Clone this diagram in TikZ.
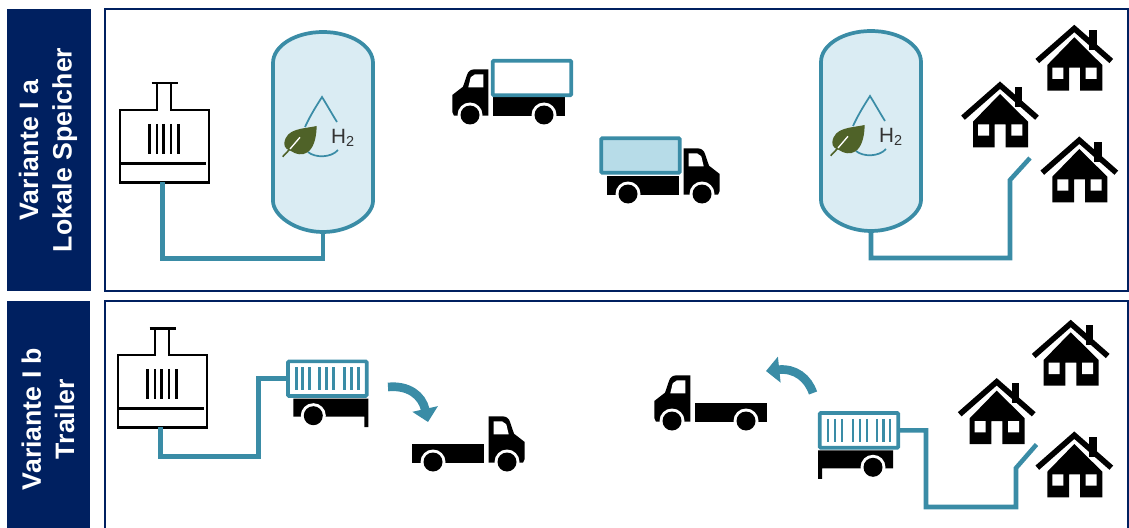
\documentclass[tikz,border=0pt]{standalone}
\usepackage{fontspec}
\setmainfont{Liberation Sans}
\usetikzlibrary{arrows.meta}
\definecolor{navy}{HTML}{002060}
\definecolor{teal}{HTML}{3A8CA6}
\definecolor{tankfill}{HTML}{DAECF3}
\definecolor{loadfill}{HTML}{B7DCE8}
\definecolor{leaf}{HTML}{4F6228}
\begin{document}
\begin{tikzpicture}[
		x=0.75pt, y=-0.75pt,
		title/.style={fill=navy, text=white, font=\fontsize{20}{25}\selectfont\bfseries, align=center, rotate=90},
		frame/.style={draw=navy, line width=1.5pt},
		pipe/.style={draw=teal, line width=3.4pt},
		swap/.style={draw=teal, line width=6.5pt, -{Triangle[width=19pt, length=10pt]}},
		cargo/.style={draw=teal, line width=2.8pt, rounded corners=0.8pt, minimum width=59pt, minimum height=26pt, inner sep=0pt},
		plant/.pic={
			\draw[line width=1.8pt] (36.7,-26.7) -- (36.7,0) -- (0,0) -- (0,72.3) -- (89,72.3) -- (89,0) -- (51,0) -- (51,-26.7);
			\draw[line width=1.8pt] (31.7,-26.7) -- (57.7,-26.7) (0,53.3) -- (86,53.3);
			\draw[line width=1.8pt] (29.3,14) -- (29.3,44) (36.7,14) -- (36.7,44) (43.3,14) -- (43.3,44) (51,14) -- (51,44) (58.3,14) -- (58.3,44);
			\coordinate (-out) at (42.5,72.3);
		},
		tank/.pic={
			\draw[draw=teal, fill=tankfill, line width=2.8pt] (-50,-31) .. controls (-50,-17) and (-28,0) .. (0,0) .. controls (28,0) and (50,-17) .. (50,-31) -- (50,-169) .. controls (50,-186) and (28,-200) .. (0,-200) .. controls (-28,-200) and (-50,-186) .. (-50,-169) -- cycle;
			\draw[teal, line width=1.3pt] (-18,-105) .. controls (-12,-118) and (-6,-127) .. (-1,-135) .. controls (4,-127) and (9,-118) .. (14,-110);
			\draw[teal, line width=1.3pt] (-15,-80) .. controls (-8,-74) and (8,-74) .. (15,-82);
			\fill[leaf] (-6.3,-106) .. controls (-20,-103) and (-37,-104) .. (-38.7,-88.7) .. controls (-39,-84) and (-35,-82) .. (-32,-81) .. controls (-22,-74) and (-7,-76) .. (-6.3,-106);
			\draw[leaf, line width=1.2pt] (-40.3,-75.3) -- (-33,-83);
			\draw[white, line width=1pt] (-33,-83) -- (-23,-94.7);
			\node[text=black!80, font=\fontsize{15.5}{15.5}\selectfont, inner sep=0pt] (-label) at (20,-94) {H\textsubscript{2}};
			\coordinate (-port) at (0,0);
		},
		truck/.pic={
			\fill (-17.7,-3) -- (-17.7,-20) -- (-7,-28.3) -- (-3,-40) .. controls (-2,-44) and (1,-45.7) .. (5,-45.7) -- (18.3,-45.7) -- (18.3,0.7) -- (-16,0.7) -- cycle;
			\fill[white] (-1.7,-27.7) -- (0.7,-37.7) -- (5,-40.7) -- (13.3,-40.7) -- (13.3,-27.7) -- cycle;
			\fill (23,-18) rectangle (95,0.7);
			\fill[white] (0,0) circle (12.5) (74,0) circle (12.5);
			\fill (0,0) circle (9.5) (74,0) circle (9.5);
		},
		trailer/.pic={
			\fill (-20,-17) -- (55,-17) -- (55,11.5) -- (51,11.5) -- (51,1) -- (-20,1) -- cycle;
			\fill[white] (0,0) circle (12.5);
			\fill (0,0) circle (9.5);
			\node[cargo] (-box) at (14,-37) {};
			\draw[teal, line width=2.2pt] (-17,-48.5) -- (-17,-25.5) (-10.5,-48.5) -- (-10.5,-25.5) (-4,-48.5) -- (-4,-25.5);
			\draw[teal, line width=2.2pt] (6,-48.5) -- (6,-25.5) (13,-48.5) -- (13,-25.5) (20,-48.5) -- (20,-25.5);
			\draw[teal, line width=2.2pt] (31,-48.5) -- (31,-25.5) (38,-48.5) -- (38,-25.5) (45,-48.5) -- (45,-25.5);
		},
		house/.pic={
			\fill (15,5) rectangle (22.4,25);
			\draw[line width=4.2pt] (-37,36) -- (0,3.5) -- (37,36);
			\fill (0,12.3) -- (-27,40) -- (-27,65.7) -- (-5.3,65.7) -- (-5.3,42.7) -- (5.7,42.7) -- (5.7,65.7) -- (28,65.7) -- (28,40) -- cycle;
			\fill[white] (-22,42.7) rectangle (-11,54) (11.4,42.7) rectangle (22.4,54);
		}
	]
	\useasboundingbox (0,0) rectangle (1129,528);

	% Left titles
	\fill[navy] (7,9) rectangle (90.5,291);
	\fill[navy] (7,301) rectangle (90,528);
	\node[title] (titleA) at (48,150) {Variante I a\\Lokale Speicher};
	\node[title] (titleB) at (48,419) {Variante I b\\Trailer};

	% Frames
	\draw[frame] (105,9.5) rectangle (1128,291);
	\draw[frame] (105,301) rectangle (1128,540);

	% Row a
	\pic (plantA) at (120,110) {plant};
	\pic (tankA) at (323,232) {tank};
	\pic (tankB) at (871,231) {tank};
	\pic (truckA) at (470,115) {truck};
	\pic[xscale=-1] (truckB) at (702,194) {truck};
	\node[cargo, fill=white] (loadA) at (532,78) {};
	\node[cargo, fill=loadfill] (loadB) at (640.5,155.5) {};
	\pic (houseA) at (1074.3,25) {house};
	\pic (houseB) at (1000,81.7) {house};
	\pic (houseC) at (1079.3,136.7) {house};
	\coordinate (kneeA) at (1010,180);
	\coordinate (feedA) at (1030,158);

	% Row b
	\pic (plantB) at (118,355) {plant};
	\pic (trailerA) at (313.3,415.7) {trailer};
	\pic[xscale=-1] (trailerB) at (873,467.3) {trailer};
	\pic[xscale=-1] (truckC) at (507,462) {truck};
	\pic (truckD) at (672,421) {truck};
	\pic (houseD) at (1070.7,320) {house};
	\pic (houseE) at (996.7,378.3) {house};
	\pic (houseF) at (1074.3,431.7) {house};
	\coordinate (kneeC) at (258.5,456.5);
	\coordinate (kneeD) at (926,507);
	\coordinate (kneeB) at (1016,468);
	\coordinate (feedB) at (1036.5,444.5);
	\coordinate (swapA) at (388,387);
	\coordinate (swapB) at (428,422);
	\coordinate (swapC) at (813,393);
	\coordinate (swapD) at (766,371);

	% Pipes
	\draw[pipe] (plantA-out) -- ++(0,76) -| (tankA-port);
	\draw[pipe] (tankB-port) -- ++(0,27) -| (kneeA) -- (feedA);
	\draw[pipe] (plantB-out) |- (kneeC) |- (trailerA-box.west);
	\draw[pipe] (trailerB-box.east) -| (kneeD) -| (kneeB) -- (feedB);

	% Swap arrows
	\draw[swap] (swapA) .. controls (408,385) and (422,395) .. (swapB);
	\draw[swap] (swapC) .. controls (808,378) and (795,368) .. (swapD);
\end{tikzpicture}
\end{document}
